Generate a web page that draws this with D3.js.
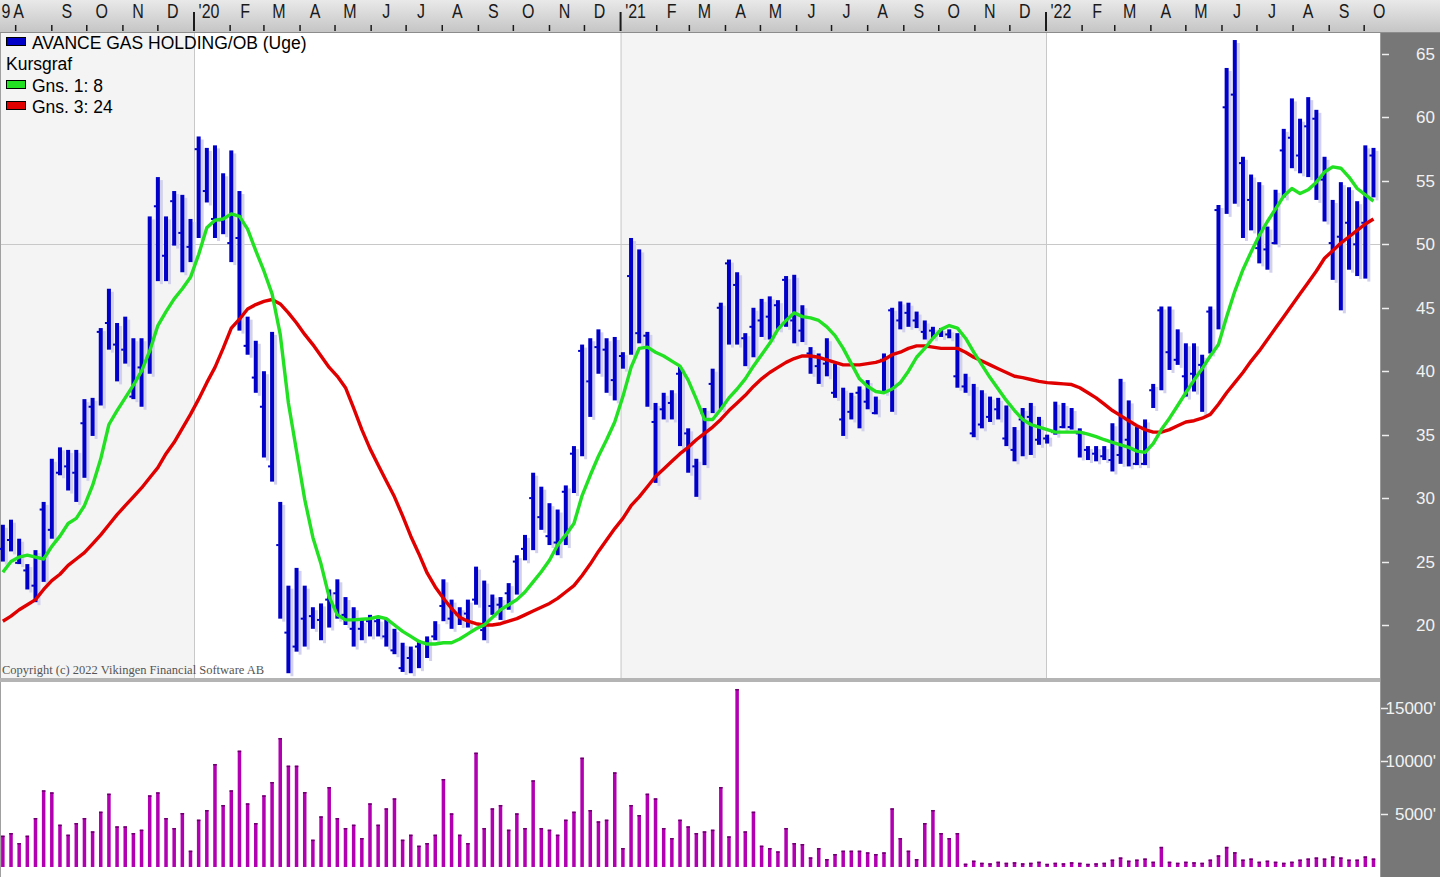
<!DOCTYPE html>
<html><head><meta charset="utf-8">
<script src="https://cdn.jsdelivr.net/npm/d3@7"></script>
<style>html,body{margin:0;padding:0;background:#fff;overflow:hidden}svg{display:block}</style>
</head><body><svg id="c" width="1440" height="877"></svg>
<script>
// ---------- DATA (weekly bars, first week ending 2019-07-21) ----------
const firstWeek = "2019-07-21";
const high = [27.9,28.3,26.8,24.8,25.9,29.7,33.1,34.0,33.8,33.8,
37.8,37.9,43.4,46.5,43.8,44.3,42.6,42.6,52.2,55.3,
52.2,54.2,53.9,52.0,58.5,57.6,57.8,55.6,57.4,54.2,
44.3,42.4,40.0,43.1,29.7,23.1,24.5,23.1,21.4,21.7,
22.8,23.6,22.2,21.4,20.4,20.8,20.5,20.5,19.7,18.6,
18.3,18.8,19.1,20.3,23.6,22.0,21.4,22.0,24.6,23.5,
22.4,22.2,23.3,25.5,27.1,32.0,30.9,29.6,29.1,31.0,
34.1,42.1,42.6,43.3,42.6,42.7,41.5,50.5,49.6,43.1,
37.5,38.3,38.5,40.4,35.5,33.1,37.1,40.2,45.4,48.8,
47.8,43.0,45.0,45.7,45.9,45.6,47.5,47.6,45.2,41.9,
41.4,42.6,40.6,38.7,38.3,38.8,39.3,38.0,41.4,45.0,
45.5,45.4,44.7,44.0,43.5,43.4,43.3,43.0,39.8,39.0,
38.5,38.0,37.9,37.3,35.6,37.1,37.5,36.4,35.0,37.6,
37.5,37.1,35.5,34.1,34.1,34.1,35.9,39.4,37.7,35.6,
36.2,39.0,45.1,45.1,43.3,42.2,42.2,41.3,45.1,53.1,
63.9,66.1,56.9,55.5,54.9,51.4,54.3,59.1,61.5,59.9,
61.6,60.6,56.9,53.5,54.9,54.5,53.4,57.8,57.6];
const low = [25.0,25.8,24.8,22.8,21.8,23.4,26.8,31.8,30.6,29.7,
31.6,34.9,37.3,41.7,39.2,40.6,37.8,37.2,39.8,47.1,
47.1,49.9,47.8,48.6,50.5,53.3,50.5,50.8,48.6,43.2,
41.3,38.3,33.2,31.3,20.5,16.2,17.9,18.3,19.7,18.8,
19.8,20.5,20.0,18.3,18.8,19.1,19.1,18.3,17.7,16.3,
16.2,16.6,17.4,18.8,20.3,19.7,20.0,19.8,21.6,18.8,
20.8,20.4,21.2,22.4,25.1,25.9,27.5,26.3,25.5,26.3,
30.4,33.3,36.4,39.8,38.3,37.7,40.2,41.3,42.2,37.2,
31.2,36.2,36.2,34.1,32.0,30.1,32.6,36.7,37.0,42.1,
42.1,40.4,41.1,42.7,42.5,43.3,43.5,42.2,42.3,39.8,
39.0,39.6,37.9,34.9,36.2,35.5,37.0,36.6,38.3,36.8,
43.3,43.5,43.4,42.5,42.6,42.7,42.6,38.7,38.3,34.8,
35.5,36.0,36.2,34.1,32.9,33.3,33.4,34.2,34.3,35.0,
35.5,35.4,33.2,33.0,32.9,33.0,32.1,32.7,32.5,32.6,
32.6,37.1,38.5,40.1,40.5,38.0,38.4,36.8,41.4,43.3,
52.4,53.2,50.5,51.1,48.5,48.0,50.0,53.7,56.0,55.6,
55.3,53.5,51.8,47.2,44.8,48.0,47.5,47.3,53.7];
const close = [26.0,26.7,24.9,24.3,23.1,29.1,27.5,32.0,32.5,32.0,
35.9,37.2,43.1,43.8,42.1,41.7,38.0,40.3,41.0,53.0,
49.1,53.4,50.9,49.8,57.5,54.2,52.0,51.9,50.1,50.5,
42.0,39.5,37.2,32.5,26.3,19.4,18.3,20.5,20.7,20.4,
22.0,22.5,20.8,19.7,19.7,20.3,20.3,19.1,18.0,16.6,
17.4,18.3,18.6,19.1,21.5,20.5,20.8,20.9,22.0,19.6,
21.5,21.6,22.5,25.0,26.0,30.0,28.5,27.0,26.5,30.5,
33.5,41.6,39.2,41.9,41.7,39.3,41.2,47.5,43.0,42.8,
36.0,37.0,37.5,39.8,35.1,32.5,36.7,39.0,45.0,48.5,
46.8,42.6,43.5,44.0,44.3,45.2,47.2,44.0,43.2,41.4,
40.4,40.6,38.3,36.2,36.8,38.3,37.6,36.7,40.9,44.8,
44.0,44.6,44.0,43.1,43.2,43.0,42.9,39.6,38.8,35.1,
35.8,36.4,37.0,34.7,33.8,36.2,36.4,34.6,34.7,35.2,
35.6,35.6,35.1,33.8,33.5,33.3,33.0,33.4,34.6,32.7,
32.7,38.5,44.8,41.5,40.9,39.6,39.8,40.5,44.7,52.7,
60.8,61.8,56.4,53.5,49.7,49.6,50.1,57.4,58.4,57.0,
59.3,59.9,55.1,50.1,50.6,51.7,50.0,51.7,57.0];
const ma8 = [24.15,25.0,25.35,25.5,25.35,25.2,26.2,27.0,28.0,28.4,
29.4,31.0,33.1,35.8,36.9,37.9,38.9,40.0,41.6,43.6,
44.7,45.7,46.5,47.4,49.2,51.3,51.9,52.0,52.4,52.2,
51.2,49.5,47.9,46.1,42.9,37.5,33.7,29.9,26.9,24.8,
22.2,20.8,20.4,20.4,20.45,20.5,20.65,20.5,20.0,19.5,
19.1,18.7,18.5,18.5,18.6,18.6,18.9,19.3,19.7,20.0,
20.6,21.2,21.6,22.0,22.6,23.4,24.2,25.1,26.3,27.1,
28.0,30.2,31.8,33.3,34.6,36.0,38.0,40.3,41.8,41.9,
41.5,41.2,40.8,40.4,39.3,37.8,36.2,36.2,37.0,37.9,
38.6,39.4,40.4,41.3,42.2,43.3,44.0,44.6,44.3,44.2,
44.0,43.5,42.8,41.8,40.6,39.4,38.8,38.4,38.3,38.6,
39.1,40.0,41.1,41.8,42.6,43.3,43.6,43.4,42.6,41.5,
40.5,39.5,38.6,37.7,36.9,36.2,35.8,35.6,35.4,35.2,
35.2,35.2,35.2,35.05,34.85,34.6,34.4,34.2,34.0,33.7,
33.6,34.3,35.4,36.3,37.3,38.3,39.3,40.2,41.2,42.1,
44.3,46.3,48.0,49.4,50.7,51.8,52.8,53.8,54.4,54.0,
54.3,54.9,55.7,56.1,56.0,55.3,54.4,53.9,53.4];
const ma24 = [20.3,20.7,21.2,21.6,22.0,22.8,23.5,24.0,24.7,25.2,
25.7,26.4,27.1,27.9,28.7,29.4,30.1,30.8,31.6,32.4,
33.5,34.4,35.5,36.6,37.8,39.1,40.3,41.8,43.4,44.1,
44.9,45.25,45.5,45.65,45.3,44.6,43.8,42.9,42.1,41.2,
40.3,39.6,38.7,37.1,35.4,33.9,32.6,31.35,30.1,28.6,
27.0,25.6,24.1,23.0,22.1,21.3,20.6,20.3,20.1,20.0,
20.0,20.1,20.3,20.5,20.8,21.1,21.4,21.7,22.1,22.6,
23.1,23.9,24.8,25.8,26.7,27.6,28.4,29.4,30.1,30.9,
31.7,32.3,32.9,33.5,34.0,34.6,35.1,35.6,36.2,36.9,
37.5,38.1,38.8,39.4,39.9,40.3,40.7,41.0,41.2,41.2,
41.1,40.9,40.7,40.5,40.5,40.5,40.6,40.7,40.9,41.3,
41.5,41.8,42.0,42.0,41.9,41.8,41.8,41.8,41.5,41.1,
40.8,40.5,40.2,39.9,39.6,39.5,39.35,39.2,39.1,39.05,
39.0,38.95,38.7,38.3,37.9,37.4,36.9,36.5,36.1,35.7,
35.4,35.2,35.2,35.4,35.7,36.0,36.1,36.3,36.6,37.4,
38.3,39.1,39.9,40.8,41.6,42.5,43.4,44.3,45.2,46.1,
47.0,47.9,48.9,49.5,50.1,50.6,51.1,51.6,52.0];
const volume = [2956,3208,2264,2956,4623,7234,7045,3994,3050,4151,
4623,3365,5221,6919,3837,3837,3208,3522,6762,7045,
4623,3680,5095,1541,4466,5378,9718,5850,7234,10976,
6007,4151,6762,8020,12171,9561,9561,7076,2579,4780,
7548,4623,3680,3994,2736,6007,3994,5535,6479,2579,
3050,2013,2264,3050,8303,5063,3050,2264,10787,3680,
5535,5850,3522,5063,3680,8177,3680,3522,3050,4466,
5221,10316,5378,4309,4466,8932,1793,5850,4906,6919,
6479,3680,2736,4466,3837,3208,3365,3522,7548,2893,
16794,3365,5221,2013,1793,1478,3680,2264,2170,912,
1793,755,1227,1541,1541,1541,1384,1227,1384,5535,
2736,1541,755,4151,5378,3208,2736,3208,314,598,
400,350,500,400,450,350,400,500,300,400,
350,450,400,300,350,400,700,900,600,700,
800,500,1900,500,400,500,450,400,700,1100,
1900,1400,700,800,500,600,500,400,500,700,
800,900,800,1000,900,700,700,1000,800];
const priceTicks = [20,25,30,35,40,45,50,55,60,65];
const priceGrid = [50];
const volumeTicks = [5000,10000,15000];
const monthLetters = ["J","F","M","A","M","J","J","A","S","O","N","D"];
const yearStarts = [2019,2020,2021,2022];
const firstYearStub = "9";
const legendItems = [
  {label:"AVANCE GAS HOLDING/OB (Uge)", color:"#0000c8"},
  {label:"Kursgraf", color:null},
  {label:"Gns. 1: 8", color:"#22e022"},
  {label:"Gns. 3: 24", color:"#e00000"}
];
const copyright = "Copyright (c) 2022 Vikingen Financial Software AB";

// ---------- LAYOUT ----------
const W = 1440, H = 877;
const plotR = 1380, priceTop = 33, priceBot = 678, volTop = 682, volBot = 877;
const svg = d3.select("#c");
const defs = svg.append("defs");

const t0 = new Date(firstWeek + "T00:00:00Z");
const dates = high.map((_, i) => d3.utcDay.offset(t0, 7 * i));
const x = d3.scaleUtc()
  .domain([new Date(Date.UTC(2019,6,18,13,12)), new Date(Date.UTC(2022,9,14,14,0))])
  .range([0, plotR]);
const y = d3.scaleLinear().domain([20, 65]).range([625, 54]);
const yv = d3.scaleLinear().domain([0, 15000]).range([867, 708]);

svg.append("rect").attr("width", W).attr("height", H).attr("fill", "#ffffff");

const g1 = defs.append("linearGradient").attr("id","topg").attr("x1",0).attr("y1",0).attr("x2",0).attr("y2",1);
g1.append("stop").attr("offset","0%").attr("stop-color","#e9e9e9");
g1.append("stop").attr("offset","100%").attr("stop-color","#c4c4c4");
svg.append("rect").attr("x",0).attr("y",0).attr("width",W).attr("height",priceTop).attr("fill","url(#topg)");

defs.append("clipPath").attr("id","pclip").append("rect")
  .attr("x",0).attr("y",priceTop).attr("width",plotR).attr("height",priceBot-priceTop);

const plot = svg.append("g");
yearStarts.forEach((yr, k) => {
  const a = Math.max(0, x(new Date(Date.UTC(yr,0,1))));
  const b = Math.min(plotR, x(new Date(Date.UTC(yr+1,0,1))));
  plot.append("rect").attr("x",a).attr("y",priceTop).attr("width",b-a).attr("height",priceBot-priceTop)
    .attr("fill", k % 2 === 0 ? "#f4f4f4" : "#ffffff");
  if (yr > 2019) {
    plot.append("line").attr("x1",a+0.5).attr("x2",a+0.5).attr("y1",priceTop).attr("y2",priceBot)
      .attr("stroke","#c8c8c8").attr("stroke-width",1);
  }
});
priceGrid.forEach(p => {
  plot.append("line").attr("x1",0).attr("x2",plotR).attr("y1",Math.round(y(p))+0.5).attr("y2",Math.round(y(p))+0.5)
    .attr("stroke","#c8c8c8").attr("stroke-width",1);
});
plot.append("line").attr("x1",0.5).attr("x2",0.5).attr("y1",priceTop).attr("y2",H).attr("stroke","#a0a0a0");

svg.append("text").attr("x",2).attr("y",674).text(copyright)
  .attr("font-family","'Liberation Serif','DejaVu Serif',serif").attr("font-size",12.5).attr("fill","#555");

const bars = svg.append("g").attr("clip-path","url(#pclip)");
const bw = 4;
dates.forEach((d, i) => {
  const cx = x(d);
  const yh = y(high[i]), yl = y(low[i]);
  bars.append("rect").attr("x", cx + 2).attr("y", yh + 3).attr("width", 3).attr("height", Math.max(2, yl - yh))
    .attr("fill", "#d2d2ec");
});
dates.forEach((d, i) => {
  const cx = x(d);
  const yh = y(high[i]), yl = y(low[i]), yc = y(close[i]);
  bars.append("rect").attr("x", cx - bw/2).attr("y", yh).attr("width", bw).attr("height", Math.max(2, yl - yh))
    .attr("fill", "#0000c8");
  bars.append("rect").attr("x", cx - bw/2 - 2).attr("y", yc - 1).attr("width", 2.5).attr("height", 2)
    .attr("fill", "#0000c8");
});

const line = d3.line().x((v, i) => x(dates[i])).y(v => y(v));
bars.append("path").datum(ma24).attr("d", line).attr("fill","none").attr("stroke","#e00000").attr("stroke-width",3.4).attr("stroke-linejoin","round");
bars.append("path").datum(ma8).attr("d", line).attr("fill","none").attr("stroke","#22e022").attr("stroke-width",3.4).attr("stroke-linejoin","round");

const lg = svg.append("g").attr("font-family","'Liberation Sans',Arial,sans-serif").attr("font-size",17.5).attr("fill","#000");
const lgBase = [49, 70, 92, 113];
legendItems.forEach((it, k) => {
  if (it.color) {
    lg.append("rect").attr("x",6.5).attr("y",lgBase[k]-11.5).attr("width",19).attr("height",8)
      .attr("fill",it.color).attr("stroke","#000").attr("stroke-width",1);
    lg.append("text").attr("x",32).attr("y",lgBase[k]).text(it.label);
  } else {
    lg.append("text").attr("x",6).attr("y",lgBase[k]).text(it.label);
  }
});

svg.append("rect").attr("x",0).attr("y",678).attr("width",plotR).attr("height",4).attr("fill","#b4b4b4");
svg.append("rect").attr("x",1).attr("y",volTop).attr("width",plotR-1).attr("height",volBot-volTop).attr("fill","#ffffff");

lg.append("rect").attr("x",6.5).attr("y",687.5).attr("width",19).attr("height",9)
  .attr("fill","#e000e0").attr("stroke","#000").attr("stroke-width",1);
lg.append("text").attr("x",32).attr("y",699).text("Volumen");

const vg = svg.append("g");
dates.forEach((d, i) => {
  const cx = x(d);
  const yt = yv(volume[i]);
  vg.append("rect").attr("x", cx - 1.75).attr("y", yt).attr("width", 3.5).attr("height", Math.max(1, yv(0) - yt))
    .attr("fill", "#b000b0");
  vg.append("rect").attr("x", cx - 1.75).attr("y", yt).attr("width", 3.5).attr("height", 1.5)
    .attr("fill", "#6a006a");
});

svg.append("rect").attr("x",plotR+1).attr("y",priceTop).attr("width",W-plotR-1).attr("height",H-priceTop).attr("fill","#777777");
svg.append("line").attr("x1",plotR+0.5).attr("x2",plotR+0.5).attr("y1",priceTop).attr("y2",H).attr("stroke","#9a9a9a");
const ax = svg.append("g").attr("font-family","'Liberation Sans',Arial,sans-serif").attr("font-size",17).attr("fill","#f2f2f2");
priceTicks.forEach(p => {
  const yy = Math.round(y(p));
  ax.append("line").attr("x1",1382).attr("x2",1389).attr("y1",yy+0.5).attr("y2",yy+0.5).attr("stroke","#eeeeee").attr("stroke-width",1.5);
  ax.append("text").attr("x",1435).attr("y",yy+6).attr("text-anchor","end").text(p);
});
volumeTicks.forEach(v => {
  const yy = Math.round(yv(v));
  ax.append("line").attr("x1",1381).attr("x2",1388).attr("y1",yy+0.5).attr("y2",yy+0.5).attr("stroke","#eeeeee").attr("stroke-width",1.5);
  ax.append("text").attr("x",1436).attr("y",yy+6).attr("text-anchor","end").text(v + "'");
});

const ta = svg.append("g");
const months = d3.utcMonth.range(new Date(Date.UTC(2019,7,1)), new Date(Date.UTC(2022,10,1)));
months.forEach(m => {
  const xm = x(m);
  if (xm > plotR) return;
  const isYear = m.getUTCMonth() === 0;
  ta.append("line").attr("x1",xm).attr("x2",xm).attr("y1", isYear ? 12 : 25).attr("y2", 31)
    .attr("stroke","#1a1a1a").attr("stroke-width", isYear ? 2 : 1.5);
});
const labelG = ta.append("g").attr("font-family","'Liberation Sans',Arial,sans-serif").attr("font-size",20).attr("fill","#1a1a1a");
function addLabel(cx, txt, anchor) {
  labelG.append("text").attr("transform", `translate(${cx},18) scale(0.8,1)`).attr("text-anchor", anchor || "middle").text(txt);
}
addLabel(1.5, firstYearStub, "start");
months.forEach((m, k) => {
  const xm = x(m);
  if (xm > plotR - 10) return;
  const mo = m.getUTCMonth();
  const txt = mo === 0 ? "'" + String(m.getUTCFullYear()).slice(2) : monthLetters[mo];
  const cx = k === 0 ? xm + 3 : xm + 15;
  addLabel(cx, txt);
});
svg.append("line").attr("x1",0).attr("x2",W).attr("y1",priceTop-0.5).attr("y2",priceTop-0.5).attr("stroke","#8c8c8c");
</script>
</body></html>
